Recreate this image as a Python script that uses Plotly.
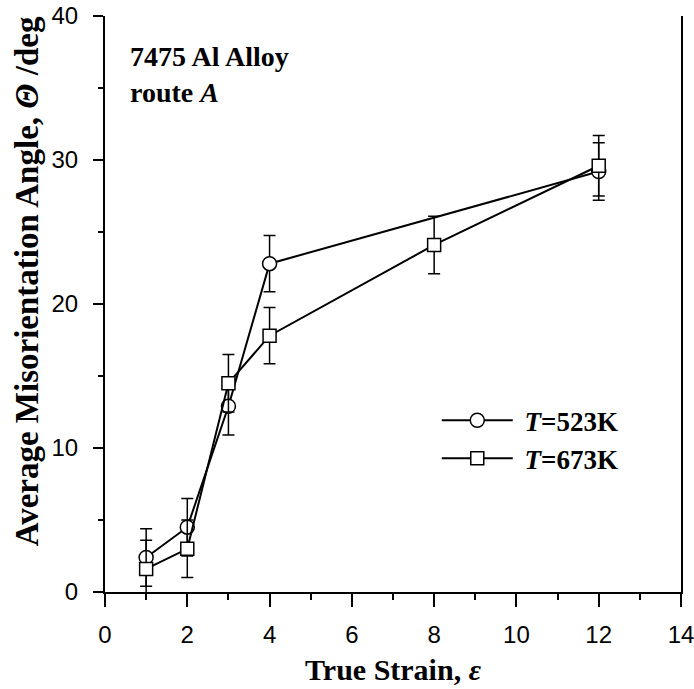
import plotly.graph_objects as go

# Data
strain_523 = [1, 2, 3, 4, 12]
angle_523 = [2.4, 4.5, 12.9, 22.8, 29.2]
err_523 = [2.0, 2.0, 2.0, 1.95, 2.0]

strain_673 = [1, 2, 3, 4, 8, 12]
angle_673 = [1.6, 3.0, 14.5, 17.8, 24.1, 29.6]
err_673 = [2.0, 2.0, 2.0, 1.95, 2.0, 2.1]

x_ticks = [0, 2, 4, 6, 8, 10, 12, 14]
y_ticks = [0, 10, 20, 30, 40]

SERIF = "Liberation Serif, Times New Roman, serif"
SANS = "Liberation Sans, Arial, sans-serif"

fig = go.Figure()

fig.add_trace(go.Scatter(
    x=strain_523, y=angle_523, mode="lines+markers", name="&nbsp;<i>T</i>=523K",
    line=dict(color="black", width=2),
    marker=dict(symbol="circle", size=14, color="white", line=dict(color="black", width=1.5)),
    error_y=dict(type="data", array=err_523, visible=True, color="black", thickness=1.5, width=6),
))
fig.add_trace(go.Scatter(
    x=strain_673, y=angle_673, mode="lines+markers", name="&nbsp;<i>T</i>=673K",
    line=dict(color="black", width=2),
    marker=dict(symbol="square", size=13, color="white", line=dict(color="black", width=1.5)),
    error_y=dict(type="data", array=err_673, visible=True, color="black", thickness=1.5, width=6),
))

fig.update_layout(
    width=694, height=689,
    margin=dict(l=105, r=13, t=16, b=97, autoexpand=False),
    paper_bgcolor="white", plot_bgcolor="white",
    showlegend=True,
    legend=dict(
        x=0.576, y=0.34, xanchor="left", yanchor="top",
        bgcolor="rgba(0,0,0,0)", borderwidth=0,
        font=dict(family=SERIF, size=27, color="black", weight="bold"),
        itemwidth=71, tracegroupgap=0,
    ),
    xaxis=dict(
        range=[0, 14], tickvals=x_ticks, ticktext=[str(v) for v in x_ticks],
        showgrid=False, zeroline=False, automargin=False, ticklabeloverflow="allow",
        showline=True, linecolor="black", linewidth=2,
        ticks="outside", ticklen=13, tickwidth=1.5, tickcolor="black",
        minor=dict(dtick=1, ticks="outside", ticklen=6, tickwidth=1.5, tickcolor="black", showgrid=False),
        tickfont=dict(family=SANS, size=24, color="black"),
        ticklabelstandoff=7,
        title=dict(text="True Strain, <i>ε</i>", font=dict(family=SERIF, size=30, color="black", weight="bold"), standoff=12),
    ),
    xaxis2=dict(
        range=[0, 14], overlaying="x", side="top", anchor="y", automargin=False,
        tickvals=x_ticks, showticklabels=False,
        showgrid=False, zeroline=False,
        showline=True, linecolor="black", linewidth=2,
        ticks="inside", ticklen=13, tickwidth=1.5, tickcolor="black",
        minor=dict(dtick=1, ticks="inside", ticklen=7, tickwidth=1.5, tickcolor="black", showgrid=False),
    ),
    yaxis=dict(
        range=[0, 40], tickvals=y_ticks, ticktext=[str(v) for v in y_ticks],
        showgrid=False, zeroline=False, automargin=False, ticklabeloverflow="allow",
        showline=True, linecolor="black", linewidth=2, mirror=True,
        ticks="outside", ticklen=10, tickwidth=1.5, tickcolor="black",
        minor=dict(dtick=5, ticks="outside", ticklen=5, tickwidth=1.5, tickcolor="black", showgrid=False),
        tickfont=dict(family=SANS, size=24, color="black"),
        ticklabelstandoff=10,
    ),
    annotations=[
        dict(
            text="7475 Al Alloy<br>route <i>A</i>", xref="paper", yref="paper",
            x=0.04, y=0.96, xanchor="left", yanchor="top", align="left", showarrow=False,
            font=dict(family=SERIF, size=28, color="black", weight="bold"),
        ),
        dict(
            text="Average Misorientation Angle, <i>Θ</i> /deg", xref="paper", yref="paper",
            x=-0.135, y=0.54, xanchor="center", yanchor="middle", textangle=-90, showarrow=False,
            font=dict(family=SERIF, size=33, color="black", weight="bold"),
        ),
    ],
)

fig.write_html(
    "out.html",
    config={"displayModeBar": False},
    post_script="document.body.style.margin='0';",
)
